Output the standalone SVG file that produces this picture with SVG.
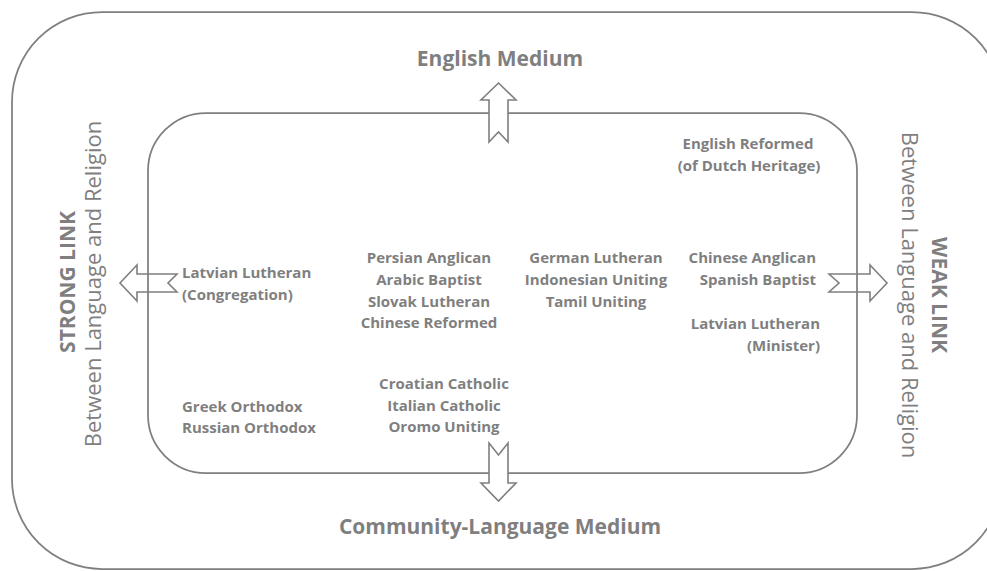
<svg xmlns="http://www.w3.org/2000/svg" width="987" height="571" viewBox="0 0 987 571">
  <defs>
    <style>
      .frame { fill: none; stroke: #7f7f7f; stroke-width: 1.75; }
      .arrow { fill: #ffffff; stroke: #7f7f7f; stroke-width: 1.6; stroke-linejoin: miter; }
      text { font-family: "Open Sans", "Liberation Sans", sans-serif; fill: #7f7f7f; }
      .item { font-size: 15px; font-weight: 700; }
      .medium { font-size: 21px; font-weight: 700; text-anchor: middle; }
      .link { font-size: 21px; font-weight: 700; text-anchor: middle; }
      .sub { font-size: 22px; font-weight: 400; text-anchor: middle; }
      .mid { text-anchor: middle; }
      .end { text-anchor: end; }
    </style>
  </defs>

  <rect width="987" height="571" fill="#ffffff"/>

  <!-- outer frame (runs past the right edge) -->
  <rect id="outer-frame" class="frame" x="12" y="12" width="990" height="557" rx="90" ry="90"/>

  <!-- side arrows sit under the inner frame line -->
  <g id="connectors">
    <path id="arrow-strong" class="arrow" d="M120,283 L137,265 L137,274 L177,274 L168,283 L177,292 L137,292 L137,301 Z"/>
    <path id="arrow-weak" class="arrow" d="M829,274 L870,274 L870,265 L887,283 L870,301 L870,292 L829,292 L839,283 Z"/>
  </g>

  <!-- inner frame -->
  <rect id="inner-frame" class="frame" x="148" y="113" width="709" height="360" rx="58" ry="58"/>

  <g id="connectors-vertical">
    <path id="arrow-english" class="arrow" d="M498.5,83 L516,100 L508,100 L508,142 L498.5,132 L489,142 L489,100 L481,100 Z"/>
    <path id="arrow-community" class="arrow" d="M489,443 L498.5,455 L508,443 L508,483 L516,483 L498.5,501 L481,483 L489,483 Z"/>
  </g>

  <!-- axis labels -->
  <g id="label-english-medium">
    <text class="medium" x="500" y="66">English Medium</text>
  </g>
  <g id="label-community-medium">
    <text class="medium" x="500" y="534">Community-Language Medium</text>
  </g>
  <g id="label-strong-link">
    <text class="link" transform="translate(75,282) rotate(-90)">STRONG LINK</text>
    <text class="sub" transform="translate(101,284) rotate(-90)">Between Language and Religion</text>
  </g>
  <g id="label-weak-link">
    <text class="link" transform="translate(932,295) rotate(90)">WEAK LINK</text>
    <text class="sub" transform="translate(902,295) rotate(90)">Between Language and Religion</text>
  </g>

  <!-- congregations -->
  <g id="node-english-reformed">
    <text class="item mid" x="748" y="149">English Reformed</text>
    <text class="item mid" x="749" y="171">(of Dutch Heritage)</text>
  </g>
  <g id="node-latvian-congregation">
    <text class="item" x="182" y="278">Latvian Lutheran</text>
    <text class="item" x="182" y="300">(Congregation)</text>
  </g>
  <g id="node-persian-group">
    <text class="item mid" x="429" y="263">Persian Anglican</text>
    <text class="item mid" x="429" y="285">Arabic Baptist</text>
    <text class="item mid" x="429" y="307">Slovak Lutheran</text>
    <text class="item mid" x="429" y="328">Chinese Reformed</text>
  </g>
  <g id="node-german-group">
    <text class="item mid" x="596" y="263">German Lutheran</text>
    <text class="item mid" x="596" y="285">Indonesian Uniting</text>
    <text class="item mid" x="596" y="307">Tamil Uniting</text>
  </g>
  <g id="node-chinese-anglican">
    <text class="item end" x="816" y="263">Chinese Anglican</text>
    <text class="item end" x="816" y="285">Spanish Baptist</text>
  </g>
  <g id="node-latvian-minister">
    <text class="item end" x="820" y="329">Latvian Lutheran</text>
    <text class="item end" x="820" y="351">(Minister)</text>
  </g>
  <g id="node-croatian-group">
    <text class="item mid" x="444" y="389">Croatian Catholic</text>
    <text class="item mid" x="444" y="411">Italian Catholic</text>
    <text class="item mid" x="444" y="432">Oromo Uniting</text>
  </g>
  <g id="node-orthodox">
    <text class="item" x="182" y="412">Greek Orthodox</text>
    <text class="item" x="182" y="433">Russian Orthodox</text>
  </g>
</svg>
